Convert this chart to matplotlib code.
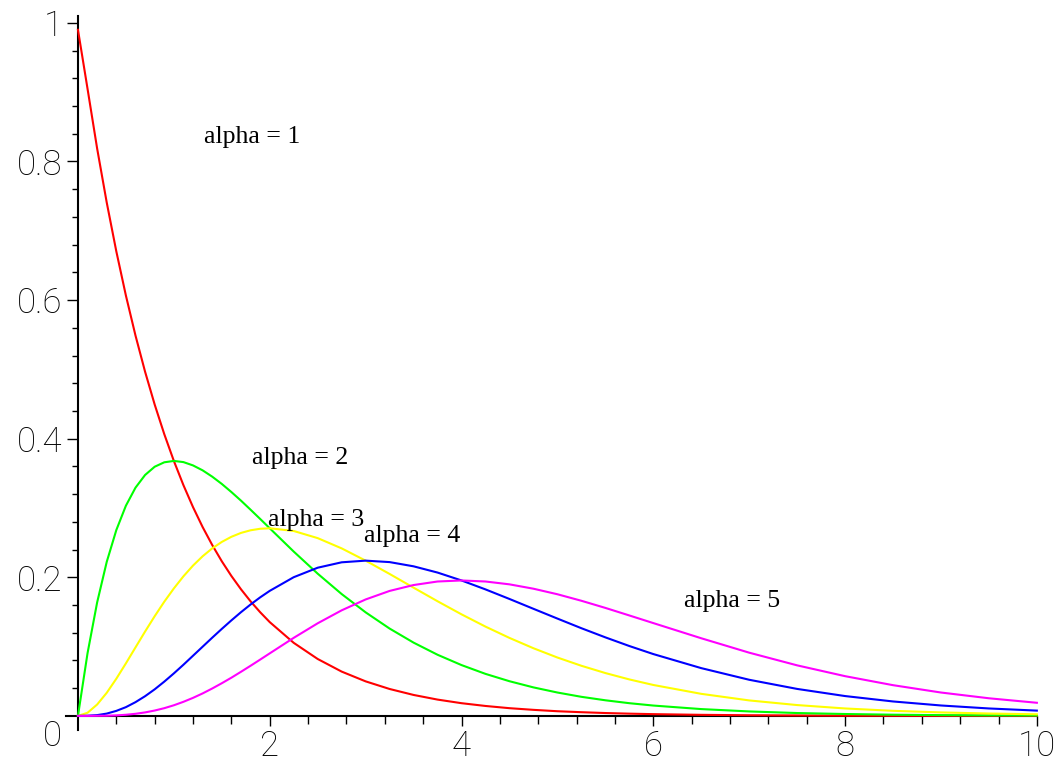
import matplotlib.pyplot as plt
from matplotlib.ticker import FixedLocator

# sample positions along x, and curve heights
x_vals = [0.0, 0.1, 0.2, 0.3, 0.4, 0.5, 0.6, 0.7, 0.8, 0.9, 1.0,
          1.1, 1.2, 1.3, 1.4, 1.5, 1.6, 1.7, 1.8, 1.9, 2.0,
          2.25, 2.5, 2.75, 3.0, 3.25, 3.5, 3.75, 4.0,
          4.25, 4.5, 4.75, 5.0, 5.25, 5.5, 5.75, 6.0,
          6.5, 7.0, 7.5, 8.0, 8.5, 9.0, 9.5, 10.0]

alpha1 = [0.99, 0.9048, 0.8187, 0.7408, 0.6703, 0.6065, 0.5488, 0.4966, 0.4493, 0.4066, 0.3679,
          0.3329, 0.3012, 0.2725, 0.2466, 0.2231, 0.2019, 0.1827, 0.1653, 0.1496, 0.1353,
          0.1054, 0.0821, 0.0639, 0.0498, 0.0388, 0.0302, 0.0235, 0.0183,
          0.0143, 0.0111, 0.0087, 0.0067, 0.0053, 0.0041, 0.0032, 0.0025,
          0.0015, 0.0009, 0.0006, 0.0003, 0.0002, 0.0001, 0.0001, 0.0]
alpha2 = [0.0, 0.0905, 0.1637, 0.2222, 0.2681, 0.3033, 0.3293, 0.3476, 0.3595, 0.3659, 0.3679,
          0.3662, 0.3614, 0.3543, 0.3452, 0.3347, 0.3230, 0.3106, 0.2975, 0.2842, 0.2707,
          0.2371, 0.2052, 0.1758, 0.1494, 0.1260, 0.1057, 0.0882, 0.0733,
          0.0606, 0.0500, 0.0411, 0.0337, 0.0275, 0.0225, 0.0183, 0.0149,
          0.0098, 0.0064, 0.0041, 0.0027, 0.0017, 0.0011, 0.0007, 0.0005]
alpha3 = [0.0, 0.0045, 0.0164, 0.0333, 0.0536, 0.0758, 0.0988, 0.1217, 0.1438, 0.1647, 0.1839,
          0.2014, 0.2169, 0.2303, 0.2417, 0.2510, 0.2584, 0.2640, 0.2678, 0.2700, 0.2707,
          0.2668, 0.2565, 0.2417, 0.2240, 0.2048, 0.1850, 0.1654, 0.1465,
          0.1288, 0.1125, 0.0976, 0.0842, 0.0723, 0.0618, 0.0526, 0.0446,
          0.0318, 0.0223, 0.0156, 0.0107, 0.0073, 0.0050, 0.0034, 0.0023]
alpha4 = [0.0, 0.0002, 0.0011, 0.0033, 0.0072, 0.0126, 0.0198, 0.0284, 0.0383, 0.0494, 0.0613,
          0.0738, 0.0868, 0.0998, 0.1128, 0.1255, 0.1378, 0.1496, 0.1607, 0.1710, 0.1804,
          0.2001, 0.2138, 0.2216, 0.2240, 0.2219, 0.2158, 0.2068, 0.1954,
          0.1825, 0.1687, 0.1545, 0.1404, 0.1265, 0.1133, 0.1008, 0.0892,
          0.0689, 0.0521, 0.0389, 0.0286, 0.0208, 0.0150, 0.0107, 0.0076]
alpha5 = [0.0, 0.0, 0.0001, 0.0002, 0.0007, 0.0016, 0.0030, 0.0050, 0.0077, 0.0111, 0.0153,
          0.0203, 0.0260, 0.0324, 0.0395, 0.0471, 0.0551, 0.0636, 0.0723, 0.0812, 0.0902,
          0.1126, 0.1336, 0.1523, 0.1680, 0.1803, 0.1888, 0.1939, 0.1954,
          0.1939, 0.1898, 0.1835, 0.1755, 0.1661, 0.1558, 0.1449, 0.1339,
          0.1120, 0.0912, 0.0729, 0.0573, 0.0443, 0.0337, 0.0254, 0.0189]

series = [alpha1, alpha2, alpha3, alpha4, alpha5]
colors = ["#ff0000", "#00ff00", "#ffff00", "#0000ff", "#ff00ff"]
labels = ["alpha = 1", "alpha = 2", "alpha = 3", "alpha = 4", "alpha = 5"]
label_x = [1.31, 1.81, 1.98, 2.98, 6.32]
label_y = [0.835, 0.372, 0.283, 0.26, 0.166]

x_major = [2, 4, 6, 8, 10]
x_minor = [0.4, 0.8, 1.2, 1.6, 2.4, 2.8, 3.2, 3.6, 4.4, 4.8, 5.2, 5.6,
           6.4, 6.8, 7.2, 7.6, 8.4, 8.8, 9.2, 9.6]
y_major = [0.2, 0.4, 0.6, 0.8, 1.0]
y_major_labels = ["0.2", "0.4", "0.6", "0.8", "1"]
y_minor = [0.04, 0.08, 0.12, 0.16, 0.24, 0.28, 0.32, 0.36, 0.44, 0.48, 0.52, 0.56,
           0.64, 0.68, 0.72, 0.76, 0.84, 0.88, 0.92, 0.96]

tick_font = ["Roboto", "DejaVu Sans"]

fig = plt.figure(figsize=(10.57, 7.63), dpi=100)
ax = fig.add_axes([0, 0, 1, 1])
ax.set_xlim(-0.813, 10.21)
ax.set_ylim(-0.068, 1.033)

for ys, c in zip(series, colors):
    ax.plot(x_vals, ys, color=c, lw=1.5, zorder=3, solid_joinstyle="round")

for txt, tx, ty in zip(labels, label_x, label_y):
    ax.text(tx, ty, txt, fontsize=18.5, family="Liberation Serif",
            ha="left", va="center", zorder=4)

for side in ["top", "right"]:
    ax.spines[side].set_visible(False)
ax.spines["left"].set_position(("data", 0))
ax.spines["bottom"].set_position(("data", 0))
ax.spines["left"].set_bounds(-0.02, 1.01)
ax.spines["bottom"].set_bounds(-0.12, 10)
ax.spines["left"].set_linewidth(1.5)
ax.spines["bottom"].set_linewidth(1.5)

ax.xaxis.set_major_locator(FixedLocator(x_major))
ax.xaxis.set_minor_locator(FixedLocator(x_minor))
ax.yaxis.set_major_locator(FixedLocator(y_major))
ax.yaxis.set_minor_locator(FixedLocator(y_minor))
ax.set_xticklabels([str(v) for v in x_major])
ax.set_yticklabels(y_major_labels)

ax.tick_params(axis="x", which="major", direction="out", length=7.5, width=1, pad=2, labelsize=25)
ax.tick_params(axis="x", which="minor", direction="out", length=5.8, width=1)
ax.tick_params(axis="y", which="major", direction="out", length=8, width=1, pad=3, labelsize=25)
ax.tick_params(axis="y", which="minor", direction="out", length=4.3, width=1)
for lab in ax.get_xticklabels() + ax.get_yticklabels():
    lab.set_family(tick_font)
    lab.set_weight("light")

ax.text(-0.17, -0.005, "0", fontsize=25, family=tick_font, weight="light",
        ha="right", va="top")

fig.savefig("out.png", dpi=100)
